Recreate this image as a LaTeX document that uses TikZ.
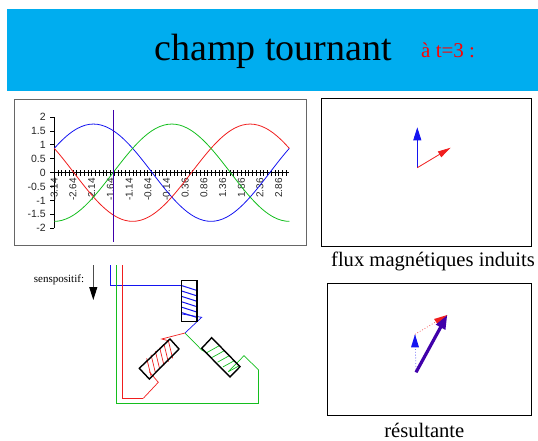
\documentclass[tikz,border=0pt]{standalone}
\usepackage{fontspec}
\setmainfont{Liberation Serif}
\newfontfamily\chartfont{Liberation Sans}
\usepackage{tikz}
\usetikzlibrary{arrows.meta}
\definecolor{BandBlue}{RGB}{0,173,239}
\definecolor{WireBlue}{RGB}{20,20,240}
\definecolor{WireRed}{RGB}{240,30,30}
\definecolor{WireGreen}{RGB}{20,190,30}
\definecolor{ResPurple}{RGB}{64,0,170}
\tikzset{
	frame/.style={draw=black!75,line width=1pt},
	curve/.style={line width=0.8pt,line join=round},
	wire/.style={line width=1pt,line join=miter},
	coil/.style={draw=black,line width=1.4pt,line join=miter},
	ylab/.style={anchor=east,inner sep=0pt,font=\chartfont\fontsize{10.5}{11}\selectfont,text=black!85},
	xlab/.style={anchor=east,rotate=90,inner sep=0pt,font=\chartfont\fontsize{10}{11}\selectfont,text=black!85},
	caption/.style={anchor=base,inner sep=0pt,font=\fontsize{20.6}{22}\selectfont},
	vecthin/.style={line width=0.8pt,-{Triangle[length=13pt,width=8pt]}},
	vecres/.style={line width=3.2pt,-{Triangle[length=14pt,width=10pt]}},
}
\begin{document}
\begin{tikzpicture}[x=1pt,y=-1pt]
	\useasboundingbox (0,0) rectangle (538,441);
	% title band
	\fill[BandBlue] (7,9) rectangle (538,91);
	\node[anchor=base west,inner sep=0pt,font=\fontsize{38}{40}\selectfont] (title) at (154.4,61) {champ tournant};
	\node[anchor=base west,inner sep=0pt,text=red,font=\fontsize{21}{22}\selectfont] (instant) at (421,57.6) {à t=3 :};
	% chart
	\draw[frame,draw=black!60] (14,100) rectangle (306,245);
	\begin{scope}[shift={(54.3,172.7)},x=0.6528pt,y=27.8pt]
		\draw[line width=1pt] (0,-2)--(0,2);
		\foreach \v/\txt in {2/2,1.5/1.5,1/1,0.5/0.5,0/0,-0.5/-0.5,-1/-1,-1.5/-1.5,-2/-2}{
			\draw[line width=0.9pt] (-6,\v)--(0,\v);
			\node[ylab] at (-13,\v) {\txt};
		}
		\draw[line width=1pt] (0,0)--(360,0);
		\foreach \k in {0,...,62}
		\draw[line width=0.7pt] ({\k*5.73},-0.11)--({\k*5.73},0.11);
		\foreach \k/\txt in {0/-3.14,1/-2.64,2/-2.14,3/-1.64,4/-1.14,5/-0.64,6/-0.14,7/0.36,8/0.86,9/1.36,10/1.86,11/2.36,12/2.86}
		\node[xlab] at ({\k*28.65},-0.19) {\txt};
		\draw[curve,WireBlue] plot[domain=0:360,samples=61,smooth] (\x,{1.75*sin(\x+30)});
		\draw[curve,WireRed] plot[domain=0:360,samples=61,smooth] (\x,{1.75*cos(\x+60)});
		\draw[curve,WireGreen] plot[domain=0:360,samples=61,smooth] (\x,{-1.75*cos(\x)});
	\end{scope}
	\draw[ResPurple,line width=0.9pt] (113.3,110)--(113.3,242);
	% positive direction
	\node[inner sep=0pt,font=\fontsize{11}{12}\selectfont] (sens) at (59,280) {senspositif:};
	\coordinate (senstop) at (93.3,265);
	\coordinate (sensend) at (93.3,300);
	\draw[black!70,line width=1pt,-{Triangle[length=13pt,width=8pt,black]}] (senstop)--(sensend);
	% windings
	\coordinate (neutre) at (185,333);
	\draw[wire,WireBlue] (110.3,265)--(110.3,285.3)--(181.7,285.3);
	\foreach \k in {0,...,5}
	\draw[wire,WireBlue] (181.7,{285.6+5.4*\k})--(196.7,{290.4+5.4*\k});
	\draw[wire,WireBlue,line width=0.7pt] (181.7,314)--(201.7,317.3)--(neutre);
	\draw[wire,WireRed] (122,265)--(122,398.3)--(143.3,398.3);
	\draw[wire,WireRed,line width=0.7pt] (143.3,398.3)--(158.3,382.3)--(149.3,371.7);
	\foreach \k in {0,...,5}
	\draw[wire,WireRed,line width=0.7pt] ({146.7+4.33*\k},{358.3-3.53*\k})--({151+4.33*\k},{376-3.53*\k});
	\draw[wire,WireRed,line width=0.7pt] (168.3,340.7)--(161.7,339)--(neutre);
	\draw[wire,WireGreen,line width=0.7pt] (neutre)--(201.7,350)--(206.7,352.7);
	\foreach \k in {0,...,4}
	\draw[wire,WireGreen,line width=0.7pt] ({206.7+5.4*\k},{352.7+4.75*\k})--({219.3+5*\k},{345.7+5*\k});
	\draw[wire,WireGreen,line width=0.7pt] (228.3,371.7)--(244,355.7)--(258.7,370);
	\draw[wire,WireGreen] (258.7,370)--(258.7,403)--(116.3,403)--(116.3,265);
	\draw[coil] (181.7,280.7) rectangle (197,321.7);
	\draw[coil] (139.3,368.3)--(149.3,379)--(179,349)--(170,339)--cycle;
	\draw[coil] (201.7,348.3)--(211.7,337.7)--(240,366.7)--(230,377)--cycle;
	% induced flux
	\draw[frame,draw=black] (321.7,99) rectangle (531.7,246);
	\coordinate (fluxo) at (417.3,167.7);
	\coordinate (fluxb) at (417.3,127.3);
	\coordinate (fluxr) at (450.7,147.7);
	\draw[vecthin,WireBlue] (fluxo)--(fluxb);
	\draw[vecthin,WireRed,-{Triangle[length=13pt,width=6.5pt]}] (fluxo)--(fluxr);
	\node[caption] (fluxcap) at (433,266.7) {flux magnétiques induits};
	% resultant
	\draw[frame,draw=black] (327.3,283.3) rectangle (531.7,415);
	\coordinate (reso) at (416,372.3);
	\coordinate (resb) at (415,334.3);
	\coordinate (resr) at (447.3,315);
	\draw[WireBlue!60,line width=0.8pt,dotted] (reso)--(resb);
	\draw[WireRed!70,line width=0.8pt,dotted] (resb)--(resr);
	\fill[WireBlue] (resb)--++(-4,13)--++(8,0)--cycle;
	\fill[WireRed] (resr)--(434,319)--(438,325)--cycle;
	\draw[vecres,ResPurple] (reso)--(resr);
	\node[caption] (rescap) at (424.3,437.3) {résultante};
\end{tikzpicture}
\end{document}
